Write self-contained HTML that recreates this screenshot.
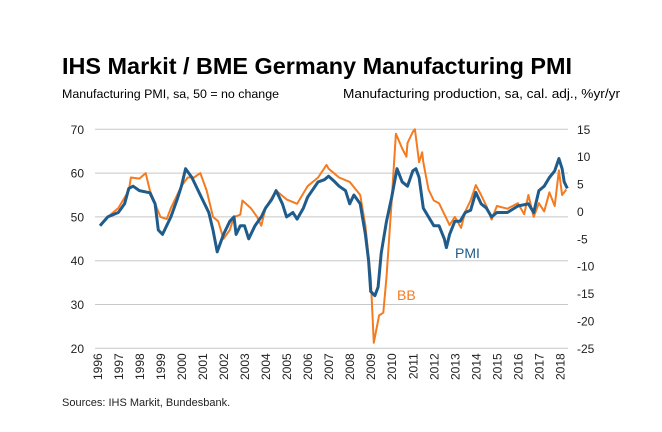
<!DOCTYPE html>
<html><head><meta charset="utf-8">
<style>
body{margin:0;background:#fff;}
svg{display:block;font-family:"Liberation Sans",Arial,sans-serif;}
</style></head>
<body>
<svg id="chart" width="662" height="432" viewBox="0 0 662 432">
<text x="62" y="74" font-size="23" font-weight="bold" fill="#000" textLength="510" lengthAdjust="spacingAndGlyphs">IHS Markit / BME Germany Manufacturing PMI</text>
<text x="62" y="98" font-size="12.4" fill="#000" textLength="217" lengthAdjust="spacingAndGlyphs">Manufacturing PMI, sa, 50 = no change</text>
<text x="343" y="98" font-size="12.6" fill="#000" textLength="277" lengthAdjust="spacingAndGlyphs">Manufacturing production, sa, cal. adj., %yr/yr</text>
<text x="62" y="406" font-size="11" fill="#222">Sources: IHS Markit, Bundesbank.</text>
<g id="grid"></g>
<g id="yl"></g>
<g id="yr"></g>
<g id="xa"></g>
<g id="series"></g>
<text x="455" y="258" font-size="14" fill="#1f5c8b">PMI</text>
<text x="397" y="300" font-size="14" fill="#f47b20">BB</text>
</svg>
<script>
const leftTicks=[20,30,40,50,60,70];
const rightTicks=[-25,-20,-15,-10,-5,0,5,10,15];
const years=[1996,1997,1998,1999,2000,2001,2002,2003,2004,2005,2006,2007,2008,2009,2010,2011,2012,2013,2014,2015,2016,2017,2018];
const pmiT=[1996.13,1996.5,1997.0,1997.3,1997.5,1997.7,1998.0,1998.5,1998.75,1998.9,1999.1,1999.5,1999.8,2000.0,2000.2,2000.5,2001.0,2001.3,2001.5,2001.7,2002.0,2002.3,2002.5,2002.6,2002.8,2003.0,2003.2,2003.5,2003.8,2004.0,2004.3,2004.5,2004.8,2005.0,2005.3,2005.5,2005.8,2006.0,2006.5,2006.8,2007.0,2007.3,2007.5,2007.8,2008.0,2008.2,2008.5,2008.75,2008.9,2009.0,2009.2,2009.35,2009.5,2009.75,2010.0,2010.25,2010.5,2010.75,2011.0,2011.15,2011.3,2011.5,2011.75,2012.0,2012.25,2012.5,2012.6,2012.75,2013.0,2013.25,2013.5,2013.75,2014.0,2014.25,2014.5,2014.75,2015.0,2015.5,2016.0,2016.5,2016.75,2017.0,2017.25,2017.5,2017.75,2017.95,2018.1,2018.2,2018.35];
const pmiV=[48,50,51,53,56.5,57,56,55.5,53,47,46,50,54,57,61,59,54,51,47,42,46,49,50,46,48,48,45,48,50,52,54,56,53,50,51,49.5,52,54.5,58,58.5,59.3,58,57,56,53,55,53,46,40,33,32,34,41.7,49,54.5,61,58,57,60.5,61,59,52,50,48,48,45,43,46,49,49,51,51.5,55.6,53,52,50,51,51,52.5,53,51,56,57,59,60.5,63.3,61,58,56.5];
const bbT=[1996.13,1996.5,1997.0,1997.5,1997.6,1998.0,1998.3,1998.5,1999.0,1999.3,1999.5,2000.0,2000.3,2000.6,2000.9,2001.2,2001.5,2001.75,2002.0,2002.3,2002.5,2002.8,2002.9,2003.3,2003.6,2003.8,2004.0,2004.5,2005.0,2005.5,2006.0,2006.5,2006.9,2007.0,2007.5,2008.0,2008.5,2008.75,2009.0,2009.15,2009.25,2009.4,2009.6,2009.75,2010.0,2010.2,2010.5,2010.7,2010.75,2011.0,2011.1,2011.3,2011.45,2011.5,2011.75,2012.0,2012.25,2012.5,2012.75,2013.0,2013.3,2013.5,2013.75,2014.0,2014.25,2014.5,2014.75,2015.0,2015.5,2016.0,2016.3,2016.5,2016.75,2017.0,2017.25,2017.5,2017.75,2017.95,2018.1,2018.3];
const bbV=[-2.6,-1,0.6,3.8,6.2,6,7,3.8,-1,-1.4,0.6,4.6,6.2,6.2,7,3.8,-1,-1.8,-5,-3.4,-1,-0.6,2,0.6,-1,-2.6,0.6,3.8,2.2,1.4,4.6,6.2,8.5,7.8,6.2,5.4,3,-2.6,-12,-24,-22,-19,-18.5,-12,2,14.2,11.5,10,12.5,14.5,15,9,10.8,9,4,2,1.5,-0.5,-2.5,-1,-3,0,2,4.8,3,1,-1.5,1,0.5,1.5,-0.5,3,-1,1.5,0,3.5,1,7.5,3,4];

const NS='http://www.w3.org/2000/svg';
const X0=95,X1=568,YT=129.3,YB=348.3;
const xs=t=>97.3+(t-1996)*21.03;
const yl=v=>YB-(v-20)/50*(YB-YT);
const yr=v=>YB-(v+25)/40*(YB-YT);
function mk(tag,attrs,parent){const e=document.createElementNS(NS,tag);for(const k in attrs)e.setAttribute(k,attrs[k]);document.getElementById(parent).appendChild(e);return e;}
leftTicks.forEach(v=>{
  const l=mk('line',{x1:X0,x2:X1,y1:yl(v),y2:yl(v),stroke:'#c8c8c8','stroke-width':1},'grid');
  
  
  const t=mk('text',{x:84,y:yl(v)+4.5,'font-size':12,'text-anchor':'end',fill:'#222'},'yl');
  t.textContent=v;
  
  
});
rightTicks.forEach(v=>{
  const t=mk('text',{x:577,y:yr(v)+4.5,'font-size':12,fill:'#222'},'yr');
  t.textContent=v;
  
  
});
years.forEach(y=>{
  const x=xs(y);
  const t=mk('text',{x:0,y:0,'font-size':12,'text-anchor':'end',fill:'#222',transform:`translate(${x+4.5},${YB+5}) rotate(-90)`},'xa');
  t.textContent=y;
  
  
});
function path(T,V,ys){return T.map((t,i)=>(i?'L':'M')+xs(t).toFixed(1)+','+ys(V[i]).toFixed(1)).join('');}
const bb=mk('path',{d:path(bbT,bbV,yr),fill:'none',stroke:'#f47b20','stroke-width':2,'stroke-linejoin':'round'},'series');


const pm=mk('path',{d:path(pmiT,pmiV,yl),fill:'none',stroke:'#1f5c8b','stroke-width':3,'stroke-linejoin':'round'},'series');


</script>
</body></html>
